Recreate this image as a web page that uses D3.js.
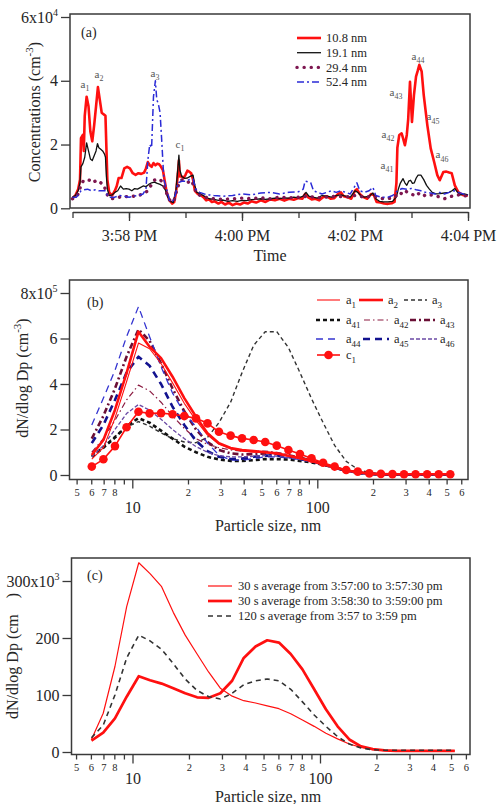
<!DOCTYPE html>
<html><head><meta charset="utf-8">
<script src="https://cdn.jsdelivr.net/npm/d3@7"></script>
<style>
html,body{margin:0;padding:0;background:#fff;}
svg{display:block;font-family:"Liberation Serif","Times New Roman",serif;}
</style></head><body>
<svg id="chart" width="497" height="804" font-family="Liberation Serif, serif"></svg>
<script>
// ================= DATA =================
// Panel (a): time in seconds after 3:57:00 PM, concentration in 10^4 cm^-3
const conc10_8 = [[0,0.32],[3,0.4],[6,0.6],[8,0.9],[9,2.2],[11,2.3],[12,1.8],[13,2.9],[15,3.5],[17,3.2],[19,2.4],[21,2.1],[23,2.6],[25,3.2],[27,3.8],[29,3.4],[31,3.0],[33,2.95],[35,2.9],[36,1.9],[37,0.9],[39,0.5],[42,0.4],[45,0.55],[47,0.7],[49,0.95],[52,0.95],[55,1.25],[58,1.3],[61,1.25],[64,1.1],[67,1.05],[70,1.1],[73,1.08],[76,1.12],[78,1.25],[80,1.45],[82,1.35],[84,1.3],[86,1.42],[88,1.35],[90,1.4],[92,1.38],[94,1.3],[96,1.2],[98,0.85],[100,0.5],[103,0.25],[106,0.15],[108,0.2],[110,0.5],[112,1.1],[113,1.5],[114,1.0],[116,1.0],[118,0.95],[120,1.05],[122,1.18],[124,1.15],[126,1.1],[128,0.9],[130,0.55],[133,0.45],[136,0.42],[139,0.35],[142,0.25],[145,0.28],[148,0.2],[151,0.22],[155,0.15],[158,0.2],[162,0.12],[166,0.18],[170,0.1],[174,0.15],[178,0.12],[182,0.18],[186,0.15],[190,0.22],[195,0.18],[200,0.25],[205,0.2],[210,0.28],[215,0.25],[220,0.3],[225,0.24],[230,0.3],[235,0.27],[240,0.32],[244,0.3],[247,0.45],[250,0.35],[254,0.28],[258,0.3],[262,0.25],[266,0.35],[270,0.38],[274,0.3],[278,0.32],[282,0.45],[285,0.5],[288,0.38],[292,0.35],[296,0.3],[300,0.55],[302,0.6],[305,0.45],[309,0.35],[313,0.3],[317,0.45],[320,0.42],[323,0.2],[327,0.18],[331,0.15],[335,0.14],[339,0.16],[342,0.2],[344,0.8],[345,1.9],[347,2.3],[349.5,2.35],[351,2.2],[353,1.98],[355,2.3],[356.5,2.8],[358.4,3.97],[360.5,2.71],[362.6,3.55],[364.8,4.13],[366.5,4.3],[368.3,4.5],[370.8,4.29],[373,3.55],[376.8,2.61],[380.4,1.88],[384,1.46],[387.4,1.04],[390,0.88],[393.8,1.14],[397,1.15],[400,1.12],[402.7,1.1],[406,0.72],[409.7,0.51],[415,0.41],[420,0.4]];
const conc19_1 = [[0,0.35],[3,0.4],[6,0.55],[8,0.8],[9,1.3],[11,1.4],[13,1.6],[15,2.05],[17,1.8],[19,1.55],[21,1.5],[23,1.65],[25,1.8],[26.5,2.03],[28,1.9],[30,1.85],[32,1.8],[34,1.7],[35,1.6],[36,1.0],[37,0.6],[39,0.4],[42,0.42],[45,0.5],[48,0.55],[51,0.7],[54,0.6],[57,0.62],[60,0.6],[63,0.55],[66,0.62],[69,0.6],[72,0.65],[75,0.7],[78,0.68],[81,0.75],[84,0.8],[87,0.82],[90,0.78],[93,0.75],[96,0.7],[99,0.55],[101,0.36],[104,0.22],[107,0.18],[110,0.6],[112,1.3],[113,1.67],[114,1.2],[116,1.0],[119,0.94],[122,0.95],[125,1.0],[128,1.04],[130,0.7],[132,0.5],[136,0.45],[140,0.38],[145,0.3],[150,0.28],[155,0.25],[160,0.26],[165,0.22],[170,0.24],[175,0.22],[180,0.25],[185,0.24],[190,0.27],[195,0.28],[200,0.3],[205,0.28],[210,0.3],[215,0.32],[220,0.3],[225,0.33],[230,0.32],[235,0.35],[240,0.33],[245,0.38],[248,0.5],[251,0.38],[255,0.35],[260,0.32],[265,0.4],[270,0.38],[275,0.35],[280,0.4],[285,0.42],[290,0.38],[295,0.35],[300,0.55],[303,0.5],[306,0.4],[310,0.35],[315,0.38],[319,0.48],[322,0.3],[326,0.22],[330,0.2],[335,0.2],[340,0.22],[344,0.36],[346,0.6],[348,0.78],[351,0.93],[353,0.8],[355,0.72],[357,0.85],[359,0.88],[361,0.78],[363,0.8],[365,0.95],[367,1.04],[370,1.04],[373,0.9],[376,0.72],[379,0.6],[382,0.5],[386,0.45],[390,0.46],[395,0.48],[400,0.5],[403,0.55],[406,0.62],[409,0.5],[412,0.42],[416,0.45],[420,0.42]];
const conc29_4 = [[0,0.3],[4,0.35],[7,0.5],[9,0.75],[12,0.88],[15,0.9],[18,0.88],[21,0.8],[24,0.85],[27,0.88],[30,0.8],[33,0.75],[36,0.5],[38,0.35],[42,0.3],[46,0.32],[50,0.35],[55,0.38],[60,0.35],[65,0.38],[70,0.4],[75,0.45],[80,0.55],[84,0.75],[87,0.88],[90,0.92],[93,0.9],[96,0.8],[99,0.55],[102,0.3],[105,0.2],[108,0.25],[111,0.6],[114,0.85],[117,0.9],[120,0.85],[123,0.82],[126,0.88],[129,0.7],[132,0.45],[136,0.4],[140,0.35],[150,0.3],[160,0.28],[170,0.3],[180,0.32],[190,0.3],[200,0.33],[210,0.3],[220,0.35],[230,0.33],[240,0.35],[250,0.38],[260,0.33],[270,0.35],[280,0.38],[290,0.35],[300,0.4],[310,0.35],[320,0.38],[330,0.3],[340,0.32],[344,0.4],[347,0.5],[350,0.45],[353,0.55],[356,0.5],[359,0.45],[362,0.42],[365,0.5],[368,0.45],[371,0.48],[374,0.4],[377,0.38],[380,0.42],[385,0.4],[390,0.35],[395,0.3],[400,0.35],[405,0.4],[410,0.42],[415,0.38],[420,0.4]];
const conc52_4 = [[0,0.35],[4,0.35],[7,0.45],[9,0.55],[12,0.58],[16,0.6],[20,0.55],[24,0.58],[28,0.55],[32,0.55],[35,0.55],[37,0.4],[40,0.35],[45,0.35],[50,0.4],[55,0.38],[60,0.35],[65,0.38],[70,0.4],[75,0.45],[78,0.6],[80,1.5],[82,2.0],[84,1.9],[86,3.5],[88,4.0],[89.5,3.4],[91,3.3],[93,3.0],[95,2.0],[97,0.9],[100,0.6],[103,0.25],[106,0.2],[109,0.4],[112,0.8],[116,0.85],[120,0.85],[124,0.9],[128,0.92],[131,0.6],[135,0.5],[140,0.45],[145,0.42],[150,0.4],[160,0.38],[170,0.4],[180,0.45],[190,0.42],[200,0.48],[210,0.5],[220,0.45],[230,0.5],[240,0.52],[245,0.6],[247,0.85],[250,0.83],[253,0.8],[256,0.55],[260,0.5],[265,0.45],[270,0.5],[275,0.55],[280,0.5],[285,0.55],[290,0.5],[295,0.45],[300,0.7],[302,0.8],[305,0.55],[310,0.5],[315,0.55],[319,0.66],[322,0.4],[328,0.35],[335,0.35],[340,0.4],[345,0.55],[350,0.62],[355,0.6],[360,0.62],[365,0.58],[370,0.55],[375,0.5],[380,0.48],[385,0.45],[390,0.5],[395,0.45],[400,0.5],[405,0.55],[410,0.5],[415,0.45],[420,0.42]];
const seriesNamesA = ["10.8 nm","19.1 nm","29.4 nm","52.4 nm"];
const timeTicksSec = [0,60,120,180,240,300,360,420];
const yTicksA = [0,2,4,6];
// event labels (a): [letter, subscript, time s, value]
const eventLabels = [["a","1",13.3,3.87],["a","2",28.1,4.19],["a","3",87.6,4.22],["c","1",114.2,1.99],["a","41",334,1.33],["a","42",335,2.31],["a","43",343.5,3.63],["a","44",366.9,4.76],["a","45",382.8,2.85],["a","46",392.4,1.66]];

// Panel (b): particle size (nm) and dN/dlogDp in 10^5 cm^-3
const sizesNm = [6.04,6.98,8.06,9.31,10.8,12.4,14.3,16.5,19.1,22.1,25.5,29.4,34.0,39.2,45.3,52.3,60.4,69.8,80.6,93.1,107.5,124.1,143.3,165.5,191.1,220.7,254.8,294.3,339.8,392.4,453.2,523.3];
const b_a1  = [0.7,1.2,2.5,4.1,5.8,5.55,4.9,4.05,3.15,2.4,1.75,1.35,1.15,1.05,1.0,0.98,0.92,0.83,0.72,0.6,0.46,0.32,0.2,0.11,0.06,0.04,0.03,0.03,0.03,0.03,0.03,0.03];
const b_a2  = [0.88,1.54,2.86,4.48,6.3,5.64,5.14,4.32,3.38,2.56,1.84,1.4,1.19,1.1,1.05,1.0,0.95,0.85,0.75,0.62,0.47,0.33,0.2,0.12,0.06,0.04,0.03,0.03,0.03,0.03,0.03,0.03];
const b_a3  = [0.85,1.25,1.7,2.1,2.35,2.15,1.85,1.6,1.45,1.42,1.65,2.3,3.2,4.5,5.7,6.3,6.3,5.6,4.5,3.35,2.3,1.3,0.6,0.25,0.1,0.05,0.03,0.02,0.02,0.02,0.02,0.02];
const b_a41 = [0.8,1.2,1.65,2.15,2.5,2.3,1.95,1.6,1.25,1.0,0.8,0.68,0.62,0.62,0.65,0.7,0.7,0.68,0.62,0.55,0.45,0.32,0.2,0.1,0.05,0.03,0.02,0.02,0.02,0.02,0.02,0.02];
const b_a42 = [1.0,1.6,2.4,3.3,3.95,3.7,3.2,2.6,2.05,1.6,1.35,1.2,1.1,1.05,1.05,1.05,1.0,0.9,0.8,0.65,0.5,0.34,0.2,0.11,0.05,0.03,0.02,0.02,0.02,0.02,0.02,0.02];
const b_a43 = [1.6,2.6,3.8,5.2,6.4,5.9,4.9,3.8,2.8,2.0,1.45,1.1,0.95,0.9,0.92,0.95,0.92,0.85,0.75,0.62,0.48,0.33,0.2,0.1,0.05,0.03,0.02,0.02,0.02,0.02,0.02,0.02];
const b_a44 = [2.2,3.38,4.6,6.08,7.4,6.08,4.76,3.6,2.72,2.12,1.4,0.88,0.66,0.65,0.72,0.8,0.8,0.75,0.68,0.6,0.48,0.33,0.2,0.1,0.05,0.03,0.02,0.02,0.02,0.02,0.02,0.02];
const b_a45 = [1.4,2.2,3.3,4.5,5.2,4.8,4.0,3.0,2.2,1.5,1.05,0.8,0.7,0.72,0.8,0.85,0.85,0.8,0.7,0.6,0.47,0.32,0.19,0.1,0.05,0.03,0.02,0.02,0.02,0.02,0.02,0.02];
const b_a46 = [0.8,1.3,2.0,2.7,3.1,2.85,2.45,2.0,1.6,1.25,1.0,0.85,0.8,0.8,0.82,0.85,0.83,0.76,0.68,0.58,0.46,0.32,0.2,0.1,0.05,0.03,0.02,0.02,0.02,0.02,0.02,0.02];
const b_c1  = [0.37,0.69,1.27,2.1,2.78,2.71,2.72,2.67,2.59,2.49,2.27,1.9,1.73,1.61,1.54,1.45,1.29,1.10,0.92,0.73,0.54,0.37,0.22,0.15,0.07,0.05,0.04,0.03,0.03,0.03,0.03,0.03];
const yTicksB = [0,2,4,6,8];

// Panel (c): dN/dlogDp in 10^3 cm^-3
const c_avg1 = [22,68,150,255,332,313,290,245,205,172,140,112,98,90,86,81,76,67,56,45,33,23,14,8,4,2.5,2,2,2,2,2,2];
const c_avg2 = [20,34,59,97,133,126,120,112,103,96,95,103,125,165,185,196,192,172,145,110,75,45,22,10,5,3,2,2,2,2,2,2];
const c_avg3 = [25,47,100,165,205,195,180,155,128,108,97,93,103,118,125,128,125,110,88,65,45,27,14,7,4,3,3,3,3,3,3,3];
const legendC = ["30 s average from 3:57:00 to 3:57:30 pm","30 s average from 3:58:30 to 3:59:00 pm","120 s average from 3:57 to 3:59 pm"];
const yTicksC = [0,100,200,300];
const logMinorTicks = [5,6,7,8,9,20,30,40,50,60,70,80,90,200,300,400,500,600];
const logMajorTicks = [10,100];
const logUnlabeled = [9,90];

// ================= DRAWING =================
const svg = d3.select("#chart");
const INK = "#262626", FRAME = "#3a3a3a";
const RED = "#ff1010";
const FONT = "Liberation Serif, serif";

function frame(f){
  svg.append("rect").attr("x",f.x0).attr("y",f.y0).attr("width",f.x1-f.x0).attr("height",f.y1-f.y0)
    .attr("fill","none").attr("stroke",FRAME).attr("stroke-width",1.5);
}
function clip(id,f){
  svg.append("clipPath").attr("id",id).append("rect").attr("x",f.x0).attr("y",f.y0).attr("width",f.x1-f.x0).attr("height",f.y1-f.y0);
}
function styleAxis(g,fs){
  g.attr("font-family",FONT);
  g.selectAll("line").attr("stroke",FRAME).attr("stroke-width",1.3);
  g.selectAll("path.domain").attr("stroke",FRAME).attr("stroke-width",1.3);
  g.selectAll("text").attr("fill",INK).attr("font-size",fs).attr("font-family",FONT);
}
function supLabel(g, topVal, base, exp){
  g.selectAll(".tick").filter(d=>d===topVal).select("text").text(null)
   .call(t=>{t.append("tspan").text(base); t.append("tspan").attr("dy",-7).attr("font-size",10).text(exp);});
}
function yLabel(x,y,parts){
  const t = svg.append("text").attr("transform",`translate(${x},${y}) rotate(-90)`)
    .attr("text-anchor","middle").attr("font-size",16).attr("fill",INK).attr("font-family",FONT);
  parts.forEach(p=>{const s=t.append("tspan").text(p.t); if(p.dy) s.attr("dy",p.dy); if(p.fs) s.attr("font-size",p.fs);});
}
function subText(sel, base, sub, fs){
  sel.append("tspan").text(base);
  sel.append("tspan").attr("dy",fs*0.3).attr("font-size",fs*0.72).text(sub);
}
function label(x,y,txt,fs,anchor){
  return svg.append("text").attr("x",x).attr("y",y).attr("text-anchor",anchor||"start").attr("font-size",fs)
    .attr("fill",INK).attr("font-family",FONT).text(txt);
}

// ---------- Panel (a) ----------
const FA = {x0:70,x1:470,y0:14,y1:208};
frame(FA); clip("clipA",FA);
const t0 = new Date(2000,0,1,15,57,0);
const toDate = s => new Date(t0.getTime()+s*1000);
const xA = d3.scaleTime().domain([toDate(0),toDate(420)]).range([72.5,468]);
const yA = d3.scaleLinear().domain([0,6]).range([208.3,17]);

const gyA = svg.append("g").attr("transform",`translate(${FA.x0},0)`)
  .call(d3.axisLeft(yA).tickValues(yTicksA).tickSize(9).tickSizeOuter(0).tickPadding(3).tickFormat(d3.format("d")));
gyA.select(".domain").remove();
styleAxis(gyA,16); supLabel(gyA,6,"6x10","4");

const gxAminor = svg.append("g").attr("transform","translate(0,212)")
  .call(d3.axisBottom(xA).tickValues(timeTicksSec.map(toDate)).tickSize(6).tickSizeOuter(0).tickFormat(""));
styleAxis(gxAminor,16);
const gxA = svg.append("g").attr("transform","translate(0,212)")
  .call(d3.axisBottom(xA).tickValues(timeTicksSec.filter(s=>s%120===60).map(toDate)).tickSize(9).tickSizeOuter(0).tickPadding(9).tickFormat(d3.timeFormat("%-I:%M %p")));
gxA.select(".domain").remove();
styleAxis(gxA,16);
label(270,261,"Time",16,"middle");
yLabel(40,112,[{t:"Concentrations (cm"},{t:"-3",dy:-7,fs:11},{t:")",dy:7}]);
label(81,37,"(a)",14);

const lineA = d3.line().x(d=>xA(toDate(d[0]))).y(d=>yA(d[1]));
const stylesA = [
  {data:conc10_8,color:RED,w:2.6,dash:null,cap:"butt"},
  {data:conc19_1,color:"#111",w:1.3,dash:null,cap:"butt"},
  {data:conc29_4,color:"#7d1650",w:3.4,dash:"0.1,7",cap:"round"},
  {data:conc52_4,color:"#2b2bd6",w:1.5,dash:"7,3,2,3",cap:"butt"}
];
const gA = svg.append("g").attr("clip-path","url(#clipA)");
stylesA.forEach(s=>{
  gA.append("path").datum(s.data).attr("d",lineA).attr("fill","none").attr("stroke",s.color)
    .attr("stroke-width",s.w).attr("stroke-dasharray",s.dash).attr("stroke-linecap",s.cap).attr("stroke-linejoin","round");
});
// legend (a)
stylesA.forEach((s,i)=>{
  const y = 38 + i*14.7;
  svg.append("line").attr("x1",297).attr("x2",321).attr("y1",y).attr("y2",y).attr("stroke",s.color)
    .attr("stroke-width",s.w).attr("stroke-dasharray",s.dash).attr("stroke-linecap",s.cap);
  label(326,y+4.3,seriesNamesA[i],12.5);
});
// event labels
eventLabels.forEach(e=>{
  const t = svg.append("text").attr("x",xA(toDate(e[2]))).attr("y",yA(e[3])+3).attr("text-anchor","middle")
    .attr("font-size",11).attr("fill","#555").attr("font-family",FONT);
  subText(t,e[0],e[1],11);
});

// ---------- log x axis helper ----------
function logAxis(F, x10, x100, yAxis, majorPad){
  const s0 = d3.scaleLog().domain([10,100]).range([x10,x100]);
  const x = d3.scaleLog().domain([s0.invert(F.x0),s0.invert(F.x1)]).range([F.x0,F.x1]);
  const gm = svg.append("g").attr("transform",`translate(0,${yAxis})`)
    .call(d3.axisBottom(x).tickValues(logMinorTicks).tickSize(5).tickSizeOuter(0).tickPadding(4)
      .tickFormat(d=>logUnlabeled.includes(d)?"":String(Math.round(d/Math.pow(10,Math.floor(Math.log10(d)+1e-9))))));
  gm.select(".domain").remove(); styleAxis(gm,10.5);
  const gM = svg.append("g").attr("transform",`translate(0,${yAxis})`)
    .call(d3.axisBottom(x).tickValues(logMajorTicks).tickSize(9).tickSizeOuter(0).tickPadding(majorPad).tickFormat(d3.format("d")));
  gM.select(".domain").remove(); styleAxis(gM,16);
  return x;
}

// ---------- Panel (b) ----------
const FB = {x0:69.5,x1:468,y0:280,y1:479.5};
frame(FB); clip("clipB",FB);
const xB = logAxis(FB,132.3,317.3,479.5,13);
const yB = d3.scaleLinear().domain([0,8]).range([475,293]);
const gyB = svg.append("g").attr("transform",`translate(${FB.x0},0)`)
  .call(d3.axisLeft(yB).tickValues(yTicksB).tickSize(9).tickSizeOuter(0).tickPadding(3).tickFormat(d3.format("d")));
gyB.select(".domain").remove(); styleAxis(gyB,16); supLabel(gyB,8,"8x10","5");
label(268,531,"Particle size, nm",16,"middle");
yLabel(28,378,[{t:"dN/dlog Dp (cm"},{t:"-3",dy:-7,fs:11},{t:")",dy:7}]);
label(87,307,"(b)",14);

const seriesB = [
  {n:"1",  v:b_a1,  c:RED,      w:1.1, dash:null},
  {n:"2",  v:b_a2,  c:RED,      w:2.6, dash:null},
  {n:"3",  v:b_a3,  c:"#333",   w:1.4, dash:"4,3"},
  {n:"41", v:b_a41, c:"#111",   w:2.6, dash:"4,3"},
  {n:"42", v:b_a42, c:"#8b1a40",w:1.2, dash:"6,3,1.5,3"},
  {n:"43", v:b_a43, c:"#6a0f35",w:2.6, dash:"6,3,2,3"},
  {n:"44", v:b_a44, c:"#3434d0",w:1.3, dash:"7,5"},
  {n:"45", v:b_a45, c:"#12128f",w:2.6, dash:"7,5"},
  {n:"46", v:b_a46, c:"#6b4aa5",w:1.3, dash:"4,2"},
  {n:"1",  v:b_c1,  c:RED,      w:1.6, dash:null, marker:true, letter:"c"}
];
const gB = svg.append("g").attr("clip-path","url(#clipB)");
const lineB = d3.line().x(d=>xB(d[0])).y(d=>yB(d[1]));
const drawOrder = [2,3,4,5,6,7,8,0,1,9];
drawOrder.forEach(i=>{
  const s = seriesB[i];
  gB.append("path").datum(d3.zip(sizesNm,s.v)).attr("d",lineB).attr("fill","none").attr("stroke",s.c)
    .attr("stroke-width",s.w).attr("stroke-dasharray",s.dash).attr("stroke-linejoin","round");
  if(s.marker){
    gB.selectAll(null).data(d3.zip(sizesNm,s.v)).join("circle").attr("cx",d=>xB(d[0])).attr("cy",d=>yB(d[1]))
      .attr("r",4.3).attr("fill",s.c);
  }
});
// legend (b)
const legB = [
  [0,317,340,346,300],[1,359,383,388,300],[2,404,427,432,300],
  [3,316,340,346,320],[4,364,391,394,320],[5,410,437,440,320],
  [6,316,340,346,339],[7,363,389,394,339],[8,410,437,440,339],
  [9,317,340,346,355]
];
legB.forEach(([i,x1,x2,tx,y])=>{
  const s = seriesB[i];
  svg.append("line").attr("x1",x1).attr("x2",x2).attr("y1",y).attr("y2",y).attr("stroke",s.c)
    .attr("stroke-width",s.w).attr("stroke-dasharray",s.dash);
  if(s.marker) svg.append("circle").attr("cx",(x1+x2)/2).attr("cy",y).attr("r",4.3).attr("fill",s.c);
  const t = svg.append("text").attr("x",tx).attr("y",y+4).attr("font-size",12.5).attr("fill",INK).attr("font-family",FONT);
  subText(t,s.letter||"a",s.n,12.5);
});

// ---------- Panel (c) ----------
const FC = {x0:71.5,x1:470,y0:558,y1:754.5};
frame(FC); clip("clipC",FC);
const xC = logAxis(FC,132.5,320,754.5,9);
const yC = d3.scaleLinear().domain([0,300]).range([752,581]);
const gyC = svg.append("g").attr("transform",`translate(${FC.x0},0)`)
  .call(d3.axisLeft(yC).tickValues(yTicksC).tickSize(9).tickSizeOuter(0).tickPadding(3).tickFormat(d3.format("d")));
gyC.select(".domain").remove(); styleAxis(gyC,16); supLabel(gyC,300,"300x10","3");
label(268,802,"Particle size, nm",16,"middle");
yLabel(18,656,[{t:"dN/dlog Dp (cm\u2002\u2002)"}]);
label(87,580,"(c)",14);

const seriesC = [
  {v:c_avg1,c:RED,w:1.2,dash:null},
  {v:c_avg2,c:RED,w:2.7,dash:null},
  {v:c_avg3,c:"#333",w:1.6,dash:"5,4"}
];
const gC = svg.append("g").attr("clip-path","url(#clipC)");
const lineC = d3.line().x(d=>xC(d[0])).y(d=>yC(d[1]));
seriesC.forEach(s=>{
  gC.append("path").datum(d3.zip(sizesNm,s.v)).attr("d",lineC).attr("fill","none").attr("stroke",s.c)
    .attr("stroke-width",s.w).attr("stroke-dasharray",s.dash).attr("stroke-linejoin","round");
});
seriesC.forEach((s,i)=>{
  const y = 586 + i*15;
  svg.append("line").attr("x1",208).attr("x2",232).attr("y1",y).attr("y2",y).attr("stroke",s.c)
    .attr("stroke-width",s.w).attr("stroke-dasharray",s.dash);
  label(238,y+4.3,legendC[i],12.5);
});
</script>
</body></html>
